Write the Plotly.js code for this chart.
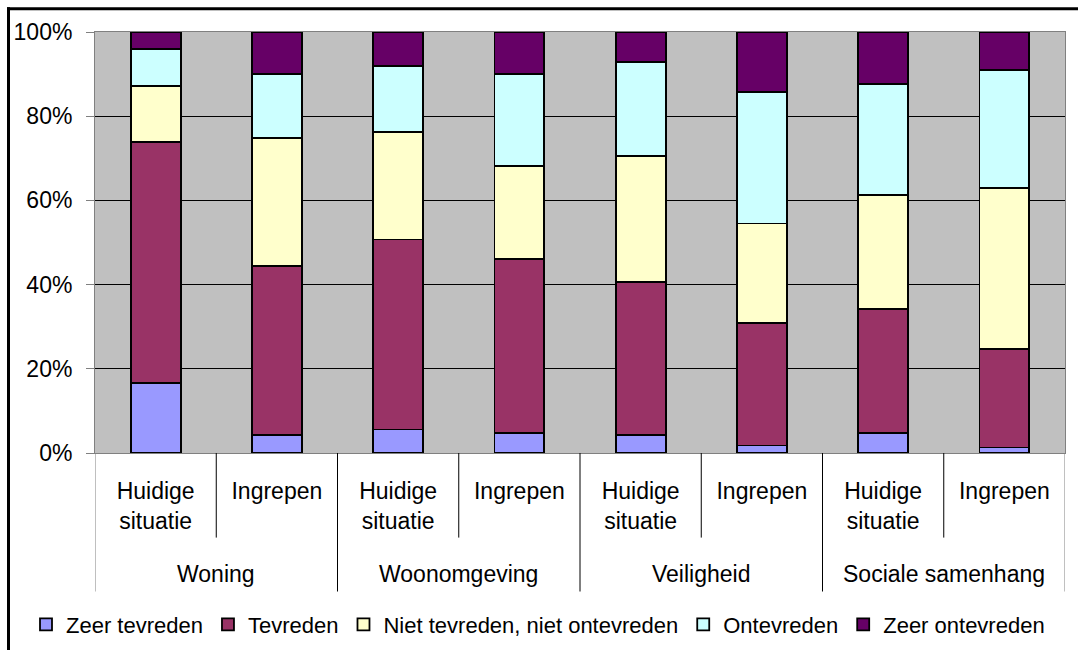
<!DOCTYPE html>
<html>
<head>
<meta charset="utf-8">
<script src="https://cdn.plot.ly/plotly-3.0.1.min.js"></script>
<style>html,body{margin:0;padding:0;background:#fff;}#chart{width:1078px;height:650px;}</style>
</head>
<body>
<div id="chart"></div>
<script>
// Data
const groups = ["Woning", "Woonomgeving", "Veiligheid", "Sociale samenhang"];
const subLabels = ["Huidige<br>situatie", "Ingrepen", "Huidige<br>situatie", "Ingrepen",
                   "Huidige<br>situatie", "Ingrepen", "Huidige<br>situatie", "Ingrepen"];
const seriesNames = ["Zeer tevreden", "Tevreden", "Niet tevreden, niet ontevreden", "Ontevreden", "Zeer ontevreden"];
const zeerTevreden   = [16.6, 4.3, 5.6, 4.7, 4.2, 1.8, 4.7, 1.3];
const tevreden       = [57.2, 40.2, 45.1, 41.3, 36.5, 29.0, 29.5, 23.4];
const nietNiet       = [13.3, 30.4, 25.6, 22.2, 29.9, 23.7, 27.0, 38.3];
const ontevreden     = [8.9, 15.1, 15.6, 21.8, 22.2, 31.3, 26.5, 27.9];
const zeerOntevreden = [4.0, 10.0, 8.1, 10.0, 7.2, 14.2, 12.3, 9.1];
const yTicks = [0, 20, 40, 60, 80, 100];
const yTickLabels = ["0%", "20%", "40%", "60%", "80%", "100%"];

const colors = ["#9999FF", "#993366", "#FFFFCC", "#CCFFFF", "#660066"];
const allSeries = [zeerTevreden, tevreden, nietNiet, ontevreden, zeerOntevreden];
const xPos = subLabels.map((_, i) => i);

const traces = allSeries.map((vals, k) => ({
  type: "bar",
  name: seriesNames[k],
  x: xPos,
  y: vals,
  width: 0.412,
  marker: {color: colors[k], line: {color: "#000", width: 1.8}}
}));

const FONT = "Liberation Sans, Arial, sans-serif";
const plotW = 970, plotH = 421.6;
const yPx = px => (453.3 - px) / plotH;   // pixel y -> paper y
const xPx = px => (px - 95) / plotW;      // pixel x -> paper x

const shapes = [];
// sub-category dividers
for (let i = 0; i < xPos.length - 1; i++) {
  const isGroup = (i % 2) === 1;
  shapes.push({type: "line", xref: "x", yref: "paper", x0: i + 0.5, x1: i + 0.5,
    y0: 0, y1: isGroup ? yPx(592) : yPx(538), line: {color: "#000", width: 1}});
}
// outer edges
[-0.5, xPos.length - 0.5].forEach(xv => shapes.push({type: "line", xref: "x", yref: "paper",
  x0: xv, x1: xv, y0: 0, y1: yPx(592), line: {color: "#808080", width: 1}}));
// chart frame (left and top visible)
shapes.push({type: "line", xref: "paper", yref: "paper", x0: xPx(8.5), x1: xPx(8.5),
  y0: yPx(652), y1: yPx(7), line: {color: "#000", width: 3}});
shapes.push({type: "line", xref: "paper", yref: "paper", x0: xPx(7), x1: xPx(1080),
  y0: yPx(8.5), y1: yPx(8.5), line: {color: "#000", width: 3}});

const annotations = groups.map((g, j) => ({
  text: g, xref: "x", yref: "paper", x: 2 * j + 0.5, y: yPx(574),
  xanchor: "center", yanchor: "middle", showarrow: false,
  font: {family: FONT, size: 23, color: "#000"}
}));

const layout = {
  width: 1078, height: 650,
  margin: {l: 95, r: 13, t: 32, b: 197, autoexpand: false},
  paper_bgcolor: "#FFFFFF",
  plot_bgcolor: "#C0C0C0",
  barmode: "stack",
  showlegend: true,
  font: {family: FONT, size: 22, color: "#000"},
  legend: {orientation: "h", x: xPx(26), xanchor: "left",
    y: yPx(604), yanchor: "top",
    font: {family: FONT, size: 22, color: "#000"}, traceorder: "normal",
    itemwidth: 30, bgcolor: "rgba(0,0,0,0)"},
  xaxis: {
    range: [-0.5, xPos.length - 0.5],
    tickvals: xPos, ticktext: subLabels,
    showgrid: false, zeroline: false,
    showline: true, linecolor: "#808080", linewidth: 1, mirror: true,
    ticks: "", ticklabelstandoff: 17,
    tickfont: {family: FONT, size: 23, color: "#000"},
    fixedrange: true
  },
  yaxis: {
    range: [0, 100], tickvals: yTicks, ticktext: yTickLabels,
    showgrid: true, gridcolor: "#000", gridwidth: 1,
    zeroline: false,
    showline: true, linecolor: "#808080", linewidth: 1, mirror: true,
    ticks: "outside", ticklen: 8, tickcolor: "#808080", ticklabelstandoff: 9,
    tickfont: {family: FONT, size: 23, color: "#000"},
    fixedrange: true
  },
  shapes: shapes,
  annotations: annotations
};

Plotly.newPlot("chart", traces, layout, {staticPlot: true, displayModeBar: false});
</script>
</body>
</html>
